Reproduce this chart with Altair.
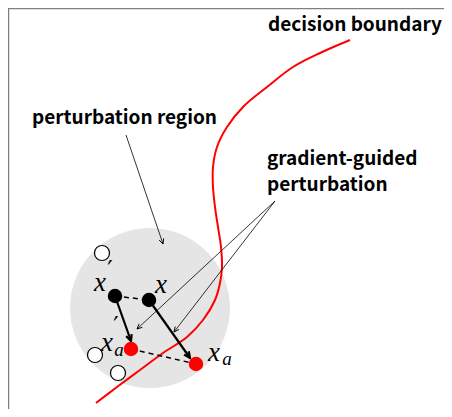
import altair as alt
import pandas as pd
import numpy as np

# ---- data (diagram coordinates, in screen-like units) ----
curve_x = [96, 117, 140, 163, 187, 203, 215, 220, 222, 221, 218, 215, 213, 213, 217, 227, 243, 267, 293, 320, 350]
curve_y = [403, 387, 370, 353, 337, 320, 300, 283, 267, 247, 227, 207, 187, 167, 147, 127, 107, 87, 67, 53, 40]

region_x, region_y = [150], [308]

orig_names = ["x'", "x"]
orig_x = [115, 149]
orig_y = [296, 300]

adv_names = ["x'_a", "x_a"]
adv_x = [131, 196]
adv_y = [349, 364]

open_x = [102, 95, 118]
open_y = [253, 355, 373]

dash_x = [115, 131]
dash_y = [296, 349]
dash_x2 = [149, 196]
dash_y2 = [300, 364]

thick_x = [115, 149]
thick_y = [296, 300]
thick_x2 = [131, 190]
thick_y2 = [341, 358]

thin_x = [126, 275, 275]
thin_y = [135, 201, 201]
thin_x2 = [163, 137, 174]
thin_y2 = [244, 329, 332]

labels = ["decision boundary", "perturbation region", "gradient-guided", "perturbation"]
label_x = [268, 32, 267, 267]
label_y = [31, 124, 165, 191]

math_text = ["x", "x", "x", "a", "x", "a"]
math_x = [100, 161, 107, 119, 214, 227]
math_y = [283, 285, 343, 350, 353, 359]
math_size = [27, 27, 27, 19, 27, 19]

prime_text = ["′", "′"]
prime_x = [110, 116]
prime_y = [271, 327]

# ---- scales ----
W, H = 436, 401
X0, Y0 = 8, 8
xs = alt.Scale(domain=[X0, X0 + W], nice=False, zero=False)
ys = alt.Scale(domain=[Y0, Y0 + H], nice=False, zero=False, reverse=True)


def X(f="x"):
    return alt.X(f"{f}:Q", scale=xs, axis=None)


def Y(f="y"):
    return alt.Y(f"{f}:Q", scale=ys, axis=None)


frame = alt.Chart(pd.DataFrame({"x": [8.5, 8], "y": [8, 8.5], "x2": [8.5, 444], "y2": [409, 8.5]})).mark_rule(
    color="#808080", strokeWidth=1.5
).encode(x=X(), y=Y(), x2="x2:Q", y2="y2:Q")

region = alt.Chart(pd.DataFrame({"x": region_x, "y": region_y})).mark_point(
    shape="circle", filled=True, size=160 ** 2, color="#e5e5e5", opacity=1
).encode(x=X(), y=Y())

curve = alt.Chart(pd.DataFrame({"x": curve_x, "y": curve_y, "i": range(len(curve_x))})).mark_line(
    color="#ff0000", strokeWidth=2, interpolate="catmull-rom"
).encode(x=X(), y=Y(), order="i:Q")

dashes = alt.Chart(pd.DataFrame({"x": dash_x, "y": dash_y, "x2": dash_x2, "y2": dash_y2})).mark_rule(
    color="black", strokeWidth=1.5, strokeDash=[5, 4]
).encode(x=X(), y=Y(), x2="x2:Q", y2="y2:Q")


def heads(x, y, x2, y2):
    dx = np.array(x2) - np.array(x)
    dy = np.array(y2) - np.array(y)
    ang = (np.degrees(np.arctan2(dx, -dy)) + 360) % 360
    return pd.DataFrame({"x": x2, "y": y2, "ang": ang})


head_shape = "M-0.75,1.6 L0,0 L0.75,1.6"

thin = alt.Chart(pd.DataFrame({"x": thin_x, "y": thin_y, "x2": thin_x2, "y2": thin_y2})).mark_rule(
    color="black", strokeWidth=0.8
).encode(x=X(), y=Y(), x2="x2:Q", y2="y2:Q")
thin_heads = alt.Chart(heads(thin_x, thin_y, thin_x2, thin_y2)).mark_point(
    shape=head_shape, filled=False, stroke="black", strokeWidth=0.9, size=40, opacity=1
).encode(x=X(), y=Y(), angle=alt.Angle("ang:Q", scale=None))

thick = alt.Chart(pd.DataFrame({"x": thick_x, "y": thick_y, "x2": thick_x2, "y2": thick_y2})).mark_rule(
    color="black", strokeWidth=2.2
).encode(x=X(), y=Y(), x2="x2:Q", y2="y2:Q")
thick_heads = alt.Chart(heads(thick_x, thick_y, thick_x2, thick_y2)).mark_point(
    shape=head_shape, filled=False, stroke="black", strokeWidth=2.2, size=60, opacity=1
).encode(x=X(), y=Y(), angle=alt.Angle("ang:Q", scale=None))

opens = alt.Chart(pd.DataFrame({"x": open_x, "y": open_y})).mark_point(
    shape="circle", filled=False, fill="white", stroke="black", strokeWidth=1.2, size=225, opacity=1
).encode(x=X(), y=Y())

orig = alt.Chart(pd.DataFrame({"x": orig_x, "y": orig_y, "n": orig_names})).mark_point(
    shape="circle", filled=True, color="black", size=210, opacity=1
).encode(x=X(), y=Y())

adv = alt.Chart(pd.DataFrame({"x": adv_x, "y": adv_y, "n": adv_names})).mark_point(
    shape="circle", filled=True, color="#ff0000", size=210, opacity=1
).encode(x=X(), y=Y())

texts = alt.Chart(pd.DataFrame({"x": label_x, "y": label_y, "t": labels})).mark_text(
    align="left", baseline="alphabetic", font="Noto Sans CJK JP", fontWeight="bold", fontSize=19, color="black"
).encode(x=X(), y=Y(), text="t:N")

math = alt.Chart(pd.DataFrame({"x": math_x, "y": math_y, "t": math_text, "s": math_size})).mark_text(
    align="center", baseline="middle", font="Liberation Serif", fontStyle="italic", color="black"
).encode(x=X(), y=Y(), text="t:N", size=alt.Size("s:Q", scale=None))

primes = alt.Chart(pd.DataFrame({"x": prime_x, "y": prime_y, "t": prime_text})).mark_text(
    align="center", baseline="middle", font="DejaVu Sans", fontSize=24, color="black"
).encode(x=X(), y=Y(), text="t:N")

chart = alt.layer(
    frame, region, curve, dashes, thin, thin_heads, thick, thick_heads, opens, orig, adv, texts, math, primes
).properties(
    width=W, height=H, padding=0, autosize=alt.AutoSizeParams(type="none")
).configure_view(stroke=None)

chart.save("out.html", embed_options={"renderer": "svg", "actions": False})
